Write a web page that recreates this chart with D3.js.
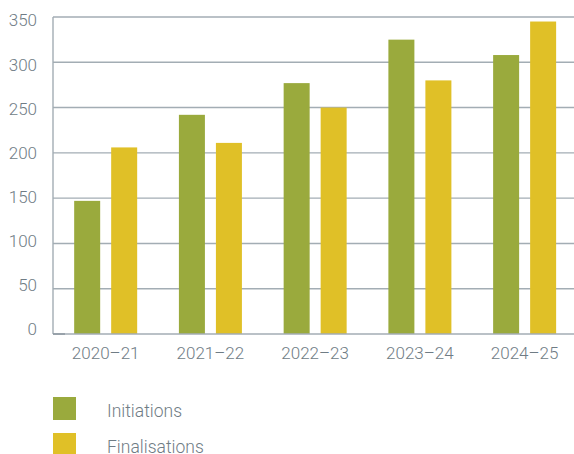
<!DOCTYPE html>
<html>
<head>
<meta charset="utf-8">
<script src="https://cdn.jsdelivr.net/npm/d3@7"></script>
<style>
  html, body { margin: 0; padding: 0; background: #fff; }
  svg { display: block; }
  text { font-family: Roboto, "DejaVu Sans", sans-serif; fill: #6f7c85; font-weight: 300; }
</style>
</head>
<body>
<svg id="chart" width="574" height="454"></svg>
<script>
// Chart data
const years = ["2020–21", "2021–22", "2022–23", "2023–24", "2024–25"];
const seriesNames = ["Initiations", "Finalisations"];
const initiations = [147, 242, 277, 325, 308];
const finalisations = [206, 211, 250, 280, 345];
const yTicks = [0, 50, 100, 150, 200, 250, 300, 350];
const seriesColors = ["#9aaa3d", "#e0c027"];

const svg = d3.select("#chart");
const plot = { left: 53, right: 574, top: 17, bottom: 334 };

const y = d3.scaleLinear().domain([0, 350]).range([plot.bottom, plot.top]);
// tick labels sit on a slightly tighter ladder than the gridlines
const yLabel = d3.scaleLinear().domain([0, 350]).range([plot.bottom - 5, plot.top + 3]);
const x0 = d3.scaleBand().domain(years).range([plot.left + 0.3, 577]).padding(0);
const groupWidth = 63;
const x1 = d3.scaleBand().domain(seriesNames).range([0, groupWidth])
  .paddingInner(2 - groupWidth / 37).paddingOuter(0);
const color = d3.scaleOrdinal().domain(seriesNames).range(seriesColors);

// Horizontal gridlines
svg.append("g").selectAll("line")
  .data(yTicks.filter(t => t > 0))
  .join("line")
  .attr("x1", plot.left).attr("x2", plot.right)
  .attr("y1", d => y(d)).attr("y2", d => y(d))
  .attr("stroke", "#a3adb4").attr("stroke-width", 1.4);

// Y axis labels
const yAxis = d3.axisLeft(yLabel).tickValues(yTicks).tickSize(0).tickPadding(16);
const gy = svg.append("g").attr("transform", `translate(${plot.left},0)`).call(yAxis);
gy.select(".domain").remove();
gy.selectAll("text")
  .style("font-family", "Roboto, sans-serif")
  .style("font-weight", 300)
  .attr("font-size", 17).attr("fill", "#6f7c85").attr("dy", "0.35em");

// Bars
const data = years.map((yr, i) => ({
  year: yr,
  values: [
    { key: seriesNames[0], value: initiations[i] },
    { key: seriesNames[1], value: finalisations[i] }
  ]
}));
const offset = (x0.bandwidth() - groupWidth) / 2;
svg.append("g").selectAll("g")
  .data(data)
  .join("g")
  .attr("transform", d => `translate(${x0(d.year) + offset},0)`)
  .selectAll("rect")
  .data(d => d.values)
  .join("rect")
  .attr("x", d => x1(d.key))
  .attr("width", x1.bandwidth())
  .attr("y", d => y(d.value))
  .attr("height", d => y(0) - y(d.value))
  .attr("fill", d => color(d.key));

// Axis frame: left line and baseline
svg.append("line")
  .attr("x1", plot.left).attr("x2", plot.left)
  .attr("y1", plot.top).attr("y2", plot.bottom)
  .attr("stroke", "#a3adb4").attr("stroke-width", 1.4);
svg.append("line")
  .attr("x1", plot.left).attr("x2", plot.right)
  .attr("y1", y(0)).attr("y2", y(0))
  .attr("stroke", "#a3adb4").attr("stroke-width", 1.4);
svg.append("line")
  .attr("x1", plot.left).attr("x2", plot.left + 12)
  .attr("y1", y(0)).attr("y2", y(0))
  .attr("stroke", "#8a969e").attr("stroke-width", 1.4);

// X axis labels
const xAxis = d3.axisBottom(x0).tickSize(0).tickPadding(13);
const gx = svg.append("g").attr("transform", `translate(0,${plot.bottom})`).call(xAxis);
gx.select(".domain").remove();
gx.selectAll("text")
  .style("font-family", "Roboto, sans-serif")
  .style("font-weight", 300)
  .attr("font-size", 17).attr("fill", "#6f7c85");

// Legend
const legend = svg.append("g").selectAll("g")
  .data(seriesNames)
  .join("g")
  .attr("transform", (d, i) => `translate(53,${397 + i * 36})`);
legend.append("rect")
  .attr("width", 23).attr("height", 23)
  .attr("fill", d => color(d));
legend.append("text")
  .attr("x", 54).attr("y", 14)
  .attr("dy", "0.35em")
  .attr("font-size", 17.5)
  .text(d => d);
</script>
</body>
</html>
